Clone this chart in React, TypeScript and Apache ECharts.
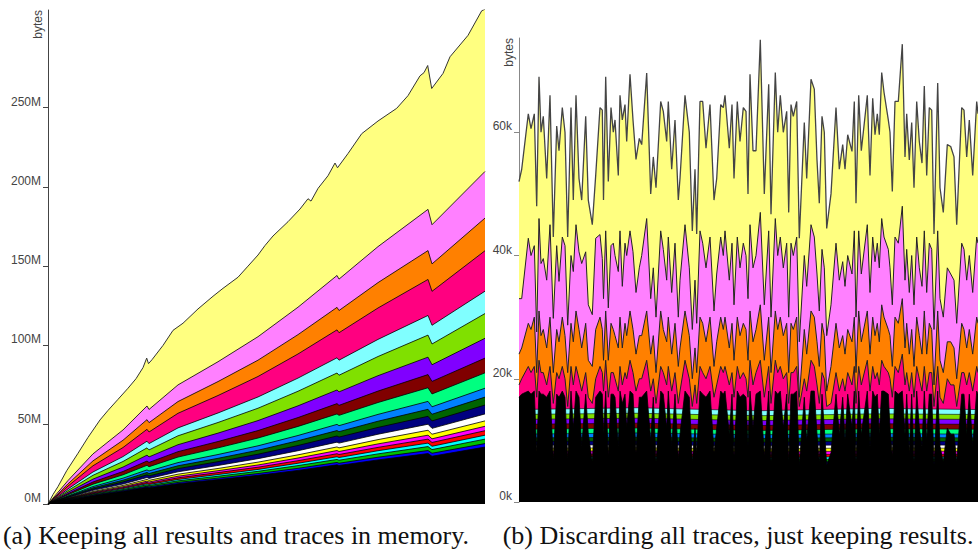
import React, { useEffect, useRef } from "react";
import * as echarts from "echarts";

// ---------- LEFT CHART (a): cumulative tops, millions of bytes ----------
const leftTopT = [0, 5, 10, 18.7, 30, 40, 52, 60, 70, 80, 88, 95, 98.7, 100.5, 104, 115, 125, 135, 150, 165, 175, 190, 200, 210, 217, 225, 240, 252, 260, 263, 270, 280, 287, 289.5, 300, 313.7, 330, 348.7, 360, 372, 376, 379.7, 383.7, 395, 402, 420, 433.7, 437];
const leftTopV = [0, 6, 11, 21, 32, 42, 53, 59, 66, 73, 79, 86, 92, 88.5, 91, 100, 109.5, 114, 123, 131, 136, 143, 150, 157, 163, 169, 178, 186, 192.5, 191, 199, 207, 215, 212, 221, 233.5, 241.5, 249.5, 257.5, 270, 272, 276.5, 262, 271.5, 282, 295.5, 311, 312];

const leftGridT = [0, 20, 45, 75, 99, 101, 130, 170, 210, 250, 289, 291, 330, 380, 384, 437];
const leftViolet = [0, 14.8, 31.6, 46.7, 61.8, 59.6, 75.1, 89.7, 105.5, 124.1, 144.1, 141.8, 162.3, 185.8, 176.1, 209.7];
const leftOrange = [0, 12.7, 27.2, 40.2, 53.2, 51.3, 64.6, 77.2, 90.7, 106.8, 124.0, 122.0, 139.6, 159.8, 151.4, 180.3];
const leftDeepPink = [0, 11.3, 24.1, 35.6, 47.1, 45.4, 57.2, 68.4, 80.4, 94.6, 109.8, 108.0, 123.6, 141.6, 134.1, 159.7];
const leftLightCyan = [0, 9.5, 20.2, 29.9, 39.6, 38.1, 48.0, 57.4, 67.5, 79.4, 92.2, 90.7, 103.8, 118.9, 112.7, 134.2];
const leftLime = [0, 8.5, 18.1, 26.8, 35.4, 34.1, 43.0, 51.4, 60.4, 71.1, 82.6, 81.2, 93.0, 106.5, 100.9, 120.1];
const leftPurple = [0, 7.4, 15.7, 23.3, 30.8, 29.7, 37.4, 44.7, 52.6, 61.9, 71.9, 70.7, 80.9, 92.6, 87.8, 104.5];
const leftMaroon = [0, 6.5, 13.9, 20.5, 27.1, 26.2, 33.0, 39.4, 46.3, 54.5, 63.3, 62.2, 71.2, 81.6, 77.3, 92.0];
const leftSpring = [0, 5.8, 12.5, 18.4, 24.4, 23.5, 29.6, 35.4, 41.6, 48.9, 56.8, 55.9, 64.0, 73.3, 69.4, 82.7];
const leftAzure = [0, 5.1, 11.0, 16.3, 21.5, 20.8, 26.1, 31.2, 36.7, 43.2, 50.2, 49.4, 56.5, 64.7, 61.3, 73.0];
const leftDarkGreen = [0, 4.8, 10.2, 15.0, 19.9, 19.2, 24.1, 28.8, 33.9, 39.9, 46.3, 45.6, 52.2, 59.7, 56.6, 67.4];
const leftNavy = [0, 4.4, 9.4, 13.9, 18.4, 17.7, 22.3, 26.7, 31.4, 36.9, 42.9, 42.2, 48.3, 55.3, 52.4, 62.4];
const leftWhite = [0, 4.0, 8.6, 12.6, 16.7, 16.1, 20.3, 24.3, 28.6, 33.6, 39.0, 38.4, 44.0, 50.3, 47.7, 56.8];
const leftYellow = [0, 3.7, 7.9, 11.7, 15.5, 14.9, 18.8, 22.4, 26.4, 31.0, 36.0, 35.4, 40.6, 46.5, 44.0, 52.4];
const leftMagenta = [0, 3.5, 7.4, 10.9, 14.4, 13.9, 17.5, 21.0, 24.6, 29.0, 33.7, 33.1, 37.9, 43.4, 41.1, 49.0];
const leftRed = [0, 3.3, 7.0, 10.3, 13.6, 13.1, 16.5, 19.8, 23.2, 27.3, 31.7, 31.2, 35.7, 40.9, 38.8, 46.2];
const leftCyan = [0, 3.1, 6.5, 9.7, 12.8, 12.3, 15.5, 18.6, 21.8, 25.7, 29.8, 29.3, 33.6, 38.4, 36.4, 43.4];
const leftGreen = [0, 2.9, 6.2, 9.1, 12.1, 11.6, 14.6, 17.5, 20.6, 24.2, 28.1, 27.6, 31.6, 36.2, 34.3, 40.9];
const leftBlue = [0, 2.7, 5.7, 8.5, 11.2, 10.8, 13.6, 16.3, 19.2, 22.5, 26.2, 25.7, 29.5, 33.7, 32.0, 38.1];
const leftBlack = [0, 2.5, 5.4, 8.0, 10.6, 10.2, 12.8, 15.4, 18.1, 21.2, 24.7, 24.3, 27.8, 31.8, 30.1, 35.9];
const leftTicks = [0, 50, 100, 150, 200, 250];

// ---------- RIGHT CHART (b): cumulative tops, thousands of bytes ----------
const rightT = [2, 4.7, 11.3, 14, 17.3, 19.7, 22, 24, 26.3, 29.7, 33, 36.3, 39.7, 42, 45.3, 48, 50.7, 54, 56.3, 59, 62, 64.7, 68.7, 71.3, 75.3, 78.7, 83, 85.3, 86.5, 88.7, 91.3, 94, 96.3, 98, 101.3, 103, 105.3, 108, 109.7, 113, 116, 119, 122.3, 124.7, 129.7, 133.7, 136.3, 139, 143.7, 146.3, 149.7, 151.3, 154.7, 158, 161.3, 163, 168, 172.3, 175.3, 178, 179.7, 183, 185.7, 189, 193, 197, 199.7, 203.7, 206.3, 208, 212.3, 215, 217, 220.3, 223, 226.3, 229, 231, 233, 236, 239, 243.3, 247.3, 251.7, 254, 258.3, 260.7, 263.3, 266.3, 269.7, 271.7, 274, 276.3, 279.7, 282.3, 287.3, 289.7, 294, 297.3, 300, 302.3, 305, 307.3, 309.7, 314, 319, 322.3, 325.7, 328, 330.7, 335, 337.3, 339, 341.7, 344.3, 350.3, 353, 355.7, 358, 360.3, 362.3, 364.7, 367, 371.3, 373, 375.3, 378, 381.3, 385.3, 388, 389.7, 392.3, 394.7, 397, 399.7, 402.3, 405, 407.3, 409.7, 412.3, 414.7, 417, 420.7, 423, 426.3, 430.3, 433.7, 437, 439.7, 444.7, 447, 449.7, 452.3, 455.7, 459.7, 461];
const rightYellowTop = [52, 54, 63, 60.6, 63, 48, 69, 60, 62.6, 52.5, 66, 43, 61, 57, 64, 60, 43, 64, 49, 66, 52.5, 49, 62.6, 49, 45, 53, 64, 63.6, 49, 69, 52, 64, 60, 62, 53, 66, 62, 64.5, 58.5, 69.4, 62, 55.6, 59, 58, 69.6, 50, 56, 51, 65, 63.4, 58.5, 65, 54, 62, 49, 52.5, 66, 60, 44, 54, 43.5, 65, 65, 57.4, 64.5, 49, 52.5, 64.5, 64, 66, 57.4, 64.5, 52.5, 65, 58.5, 64, 63.4, 50, 69.4, 57, 57, 75, 50, 67.8, 46.7, 69.7, 60, 66, 60, 63.4, 47, 64.5, 62.6, 65, 42.8, 61.6, 52.5, 68.6, 67, 55.5, 48.5, 62.6, 60, 44.4, 50, 64, 54, 58, 54, 59.6, 56.9, 65, 48.5, 66, 57, 66, 53, 65.5, 59.6, 63, 59.6, 69.7, 66.5, 62, 60, 50.4, 65, 65, 74.3, 56, 63, 55.5, 61.6, 51, 65, 58.5, 55, 67.5, 53, 64, 63.6, 43.5, 68, 51, 47, 58, 57.7, 56, 45, 64, 63.6, 56, 62, 53, 65, 63];
const rightVioletTop = [33, 33, 42.8, 40, 41.6, 27.6, 46, 38.7, 39.5, 36, 45, 29.8, 41.6, 35.8, 43, 41.6, 28.7, 40, 37.4, 45, 40.6, 38.7, 40.6, 32, 30.4, 42.8, 43.4, 39.5, 33, 44, 31.5, 41.6, 42, 40, 37.4, 44, 35, 42, 40, 44, 40.6, 34, 38, 40, 46, 33, 38, 30, 44, 41, 36, 43, 34, 42, 30, 36, 45, 38, 28, 36, 29, 44, 42, 38, 43, 31, 37, 43, 40, 44, 36, 42, 32, 43, 38, 42, 40, 33, 45, 38, 40, 47, 32, 44, 30, 46, 40, 43, 38, 42, 30, 42, 40, 43, 26, 40, 35, 45, 43, 37, 31, 41, 38, 27, 32, 42, 36, 39, 35, 40, 37, 44, 30, 44, 37, 45, 34, 43, 39, 42, 38, 46, 43, 41, 38, 32, 43, 42, 48, 36, 41, 34, 40, 32, 43, 38, 35, 44, 34, 42, 41, 28, 44, 33, 30, 38, 37, 36, 29, 42, 41, 36, 40, 34, 43, 42];
const rightOrangeTop = [24, 25, 29, 28, 30, 21, 31, 27, 28, 25, 30, 21, 28, 26, 30, 27, 21, 29, 26, 31, 28, 25, 29, 23, 22, 28, 30, 28, 23, 31, 23, 29, 28, 27, 25, 30, 25, 29, 27, 31, 28, 24, 27, 27, 31, 24, 27, 21, 31, 28, 26, 30, 24, 29, 22, 25, 31, 27, 20, 25, 21, 30, 29, 26, 30, 22, 26, 30, 28, 30, 25, 29, 23, 30, 27, 29, 28, 23, 31, 26, 28, 32, 23, 30, 21, 31, 28, 30, 27, 29, 21, 29, 28, 30, 17, 28, 24, 31, 30, 26, 22, 29, 27, 18, 22, 29, 25, 27, 24, 28, 26, 30, 21, 31, 26, 31, 24, 30, 27, 29, 26, 32, 30, 28, 27, 22, 30, 29, 33, 25, 29, 24, 28, 22, 30, 27, 24, 31, 24, 29, 28, 19, 31, 23, 21, 26, 26, 25, 20, 29, 28, 25, 28, 24, 30, 29];
const rightPinkTop = [19, 20, 22, 21, 22, 17, 23, 21, 21, 19, 22, 16, 21, 20, 22, 20, 15.5, 22, 19, 22, 20, 18, 21, 17, 16, 20, 22, 21, 18, 23, 17, 21, 21, 20, 18, 22, 19, 21, 20, 23, 21, 18, 20, 20, 23, 18, 20, 16, 22, 21, 19, 22, 18, 21, 16, 18, 23, 20, 15.5, 19, 16, 22, 21, 20, 22, 17, 19, 22, 21, 22, 19, 21, 17, 22, 20, 21, 20, 17, 23, 19, 21, 23, 17, 22, 16, 23, 21, 22, 20, 21, 16, 21, 21, 22, 15.5, 20, 18, 23, 22, 19, 16, 21, 20, 15.5, 16, 21, 18, 20, 18, 21, 19, 22, 16, 22, 19, 23, 18, 22, 20, 21, 19, 23, 22, 21, 20, 17, 22, 21, 24, 19, 21, 18, 21, 17, 22, 20, 18, 22, 18, 21, 21, 15.5, 22, 17, 16, 20, 19, 19, 15.5, 21, 21, 19, 21, 18, 22, 21];
const rightBlackTop = [17, 17.5, 18, 17.5, 18, 8, 18, 17.5, 17.5, 17, 18, 7, 17.5, 17, 18, 17, 7, 18, 12, 18, 17, 9, 17.5, 11, 6.5, 17, 18, 17.5, 11, 18, 7.5, 17.5, 17.5, 17, 9, 18, 16, 17.5, 12, 18, 17.5, 8, 17, 17, 18, 10, 17, 6.5, 18, 17.5, 12, 18, 9, 17.5, 7, 11, 18, 17, 6.5, 12, 8, 18, 17.5, 17, 18, 8, 12, 18, 17.5, 18, 11, 17.5, 7.5, 18, 17, 17.5, 17, 9, 18, 12, 17.5, 18, 7.5, 18, 6.5, 18, 17.5, 18, 12, 17.5, 6.5, 17.5, 17.5, 18, 6, 17, 10, 18, 18, 11, 6.5, 17.5, 12, 6, 8, 17.5, 11, 17, 10, 17.5, 12, 18, 6.5, 18, 11, 18, 9, 18, 17, 17.5, 11, 18, 18, 17.5, 12, 7.5, 18, 17.5, 18, 11, 17.5, 8, 17.5, 6.5, 18, 12, 9, 18, 10, 17.5, 17.5, 6, 18, 9, 6.5, 12, 11, 11, 6.5, 17.5, 17.5, 11, 17.5, 9, 18, 17.5];
const rightThinT = [2, 120, 240, 360, 461];
const rightLightCyan = [15, 15.3, 14.8, 15.2, 15];
const rightLime = [14.2, 14.4, 14, 14.3, 14.2];
const rightPurple = [13.4, 13.6, 13.2, 13.5, 13.4];
const rightMaroon = [12.6, 12.8, 12.4, 12.7, 12.6];
const rightSpring = [11.8, 12, 11.6, 11.9, 11.8];
const rightAzure = [11, 11.2, 10.9, 11.1, 11];
const rightDarkGreen = [10.4, 10.5, 10.3, 10.5, 10.4];
const rightNavy = [9.8, 9.9, 9.7, 9.9, 9.8];
const rightWhite = [9.2, 9.3, 9.1, 9.3, 9.2];
const rightYellow = [8.7, 8.8, 8.6, 8.8, 8.7];
const rightMagenta = [8.2, 8.3, 8.1, 8.3, 8.2];
const rightRed = [7.7, 7.8, 7.6, 7.8, 7.7];
const rightCyan = [7.3, 7.4, 7.2, 7.4, 7.3];
const rightGreen = [6.9, 7, 6.8, 7, 6.9];
const rightBlue = [6.5, 6.6, 6.4, 6.6, 6.5];
const rightTicks = [0, 20, 40, 60];

const captionA = "(a) Keeping all results and traces in memory.";
const captionB = "(b) Discarding all traces, just keeping results.";

const C = {
  top: "#ffff80", violet: "#ff80ff", orange: "#ff8000", deepPink: "#ff0080", lightCyan: "#80ffff",
  lime: "#80e000", purple: "#8000ff", maroon: "#800000", spring: "#00ff80", azure: "#0080ff",
  darkGreen: "#006400", navy: "#000080", white: "#ffffff", yellow: "#ffff00", magenta: "#ff00ff",
  red: "#ff0000", cyan: "#00ffff", green: "#00c000", blue: "#0000ff", black: "#000000",
};

const pairs = (t: number[], v: number[]) => t.map((x, i) => [x, v[i]]);

export default function App() {
  const ref = useRef<HTMLDivElement>(null);
  useEffect(() => {
    const chart = echarts.init(ref.current!, null, { renderer: "svg" });
    const series: any[] = [];
    const area = (g: number, data: number[][], color: string, line = "#000", width = 0.8) =>
      series.push({
        type: "line", xAxisIndex: g, yAxisIndex: g, data, symbol: "none", showSymbol: false, silent: true,
        lineStyle: { color: line, width }, itemStyle: { color },
        areaStyle: { color, opacity: 1, origin: "start" },
      });

    // left
    area(0, pairs(leftTopT, leftTopV), C.top, "#333", 1);
    const leftLayers: [number[], string][] = [
      [leftViolet, C.violet], [leftOrange, C.orange], [leftDeepPink, C.deepPink], [leftLightCyan, C.lightCyan],
      [leftLime, C.lime], [leftPurple, C.purple], [leftMaroon, C.maroon], [leftSpring, C.spring],
      [leftAzure, C.azure], [leftDarkGreen, C.darkGreen], [leftNavy, C.navy], [leftWhite, C.white],
      [leftYellow, C.yellow], [leftMagenta, C.magenta], [leftRed, C.red], [leftCyan, C.cyan],
      [leftGreen, C.green], [leftBlue, C.blue], [leftBlack, C.black],
    ];
    leftLayers.forEach(([v, c]) => area(0, pairs(leftGridT, v), c));

    // right
    area(1, pairs(rightT, rightYellowTop), C.top, "#444", 1.3);
    area(1, pairs(rightT, rightVioletTop), C.violet, "#222", 1);
    area(1, pairs(rightT, rightOrangeTop), C.orange, "#222", 1);
    area(1, pairs(rightT, rightPinkTop), C.deepPink, "#222", 1);
    const rightThin: [number[], string][] = [
      [rightLightCyan, C.lightCyan], [rightLime, C.lime], [rightPurple, C.purple], [rightMaroon, C.maroon],
      [rightSpring, C.spring], [rightAzure, C.azure], [rightDarkGreen, C.darkGreen], [rightNavy, C.navy],
      [rightWhite, C.white], [rightYellow, C.yellow], [rightMagenta, C.magenta], [rightRed, C.red],
      [rightCyan, C.cyan], [rightGreen, C.green], [rightBlue, C.blue],
    ];
    rightThin.forEach(([v, c]) => area(1, pairs(rightThinT, v), c, "#000", 0.6));
    area(1, pairs(rightT, rightBlackTop), C.black, "#000", 0.8);

    const font = "Liberation Sans, Arial, Helvetica, sans-serif";
    const yAx = (g: number, max: number, ticks: number[], unit: string, lineColor: string) => ({
      gridIndex: g, type: "value", min: 0, max, interval: 10,
      splitLine: { show: false },
      axisLine: { show: true, lineStyle: { color: lineColor, width: 1 } },
      axisTick: { show: true, length: 5, lineStyle: { color: lineColor }, customValues: ticks },
      axisLabel: {
        customValues: ticks, color: "#444", fontSize: 12, fontFamily: font, margin: 7, verticalAlign: "bottom",
        formatter: (v: number) => (ticks.indexOf(v) >= 0 ? v + unit : ""),
      },
    });

    chart.setOption({
      animation: false,
      grid: [
        { left: 48, top: 10, width: 437, height: 494 },
        { left: 519, top: 38, width: 459, height: 464 },
      ],
      xAxis: [
        { gridIndex: 0, type: "value", min: 0, max: 437, show: false },
        { gridIndex: 1, type: "value", min: 2, max: 461, show: false },
      ],
      yAxis: [yAx(0, 311.5, leftTicks, "M", "#444"), yAx(1, 75.3, rightTicks, "k", "#888")],
      series,
      graphic: [
        { type: "text", x: 38, y: 10, rotation: Math.PI / 2, silent: true,
          style: { text: "bytes", fill: "#444", font: `12px ${font}`, align: "right", verticalAlign: "middle" } },
        { type: "text", x: 509, y: 38, rotation: Math.PI / 2, silent: true,
          style: { text: "bytes", fill: "#444", font: `12px ${font}`, align: "right", verticalAlign: "middle" } },
        { type: "text", x: 236, y: 535, silent: true,
          style: { text: captionA, fill: "#111", font: `26px "Liberation Serif", serif`, align: "center", verticalAlign: "middle" } },
        { type: "text", x: 738, y: 535, silent: true,
          style: { text: captionB, fill: "#111", font: `26px "Liberation Serif", serif`, align: "center", verticalAlign: "middle" } },
      ],
    });
    return () => chart.dispose();
  }, []);
  return <div ref={ref} style={{ position: "fixed", left: 0, top: 0, width: 978, height: 551, background: "#fff" }} />;
}
